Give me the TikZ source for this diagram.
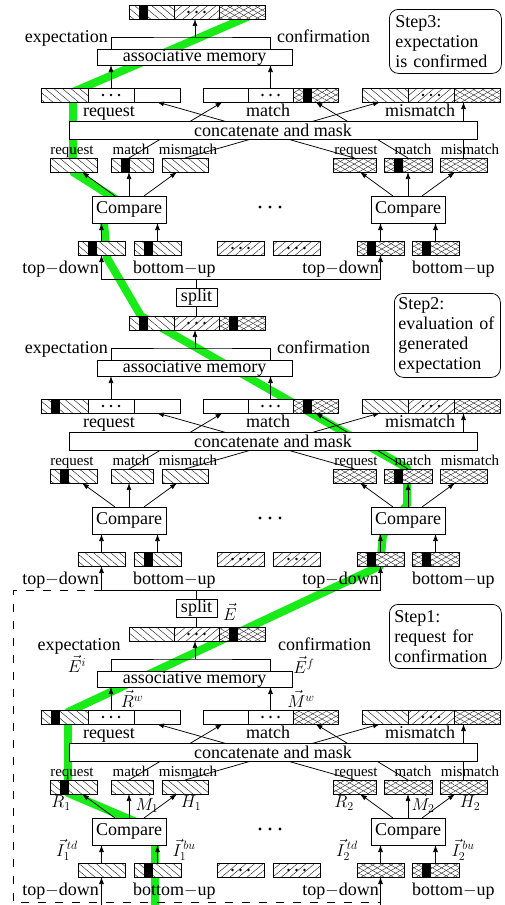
\documentclass[tikz,border=0pt]{standalone}
\usepackage{fontspec}
\setmainfont{Liberation Serif}
\usetikzlibrary{patterns.meta,arrows.meta}
\definecolor{hlgreen}{RGB}{25,235,25}
\tikzset{
  bx/.style={draw=black, line width=0.75pt, inner sep=0pt, outer sep=0pt, anchor=north west, minimum height=14pt},
  wbx/.style={bx, fill=white},
  hnw/.style={bx, preaction={fill=white}, pattern={Lines[angle=-40,distance=5.5pt,line width=0.45pt]}, pattern color=black!85},
  hne/.style={bx, preaction={fill=white}, pattern={Lines[angle=40,distance=5.5pt,line width=0.45pt]}, pattern color=black!85},
  hx/.style={bx, preaction={fill=white}, preaction={pattern={Lines[angle=30,distance=4.6pt,line width=0.4pt]}, pattern color=black!85}, pattern={Lines[angle=-30,distance=4.6pt,line width=0.4pt]}, pattern color=black!85},
  tbox/.style={draw=black, line width=0.75pt, fill=white, inner sep=0pt, outer sep=0pt, anchor=center, font=\fontsize{18}{20}\selectfont},
  lbl/.style={inner sep=0pt, font=\fontsize{18}{20}\selectfont},
  slbl/.style={inner sep=0pt, anchor=base, font=\fontsize{15}{16}\selectfont},
  arr/.style={-{Latex[length=7pt,width=5pt]}, line width=0.75pt},
  ln/.style={line width=0.75pt},
  stepnote/.style={draw=black, line width=0.75pt, rounded corners=9pt, anchor=north west, align=left, inner sep=0pt, font=\fontsize{18}{20}\selectfont},
}
\begin{document}
\begin{tikzpicture}[x=1pt,y=-1pt]
\useasboundingbox (0,0) rectangle (505,905);
% highlighted path
\draw[hlgreen, line width=8pt, line join=round] (155,906) -- (155,830) -- (68,793) -- (68,712) -- (380,566) -- (383,535) -- (407,505) -- (407,468) -- (141,316) -- (107,258) -- (104,222) -- (125,205) -- (73,172) -- (73,92) -- (252,15);
% dashed frame of step 1
\draw[ln, dash pattern=on 8pt off 9pt] (101.5,590) -- (13,590) -- (13,902) -- (380.5,902);

\foreach \s/\dy in {3/-311, 2/0, 1/311} {
\begin{scope}[shift={(0,\dy)}]
  % inputs
  \node[hnw, minimum width=47pt] (in1-\s) at (78,552) {};
  \node[hnw, minimum width=47pt] (in2-\s) at (134,552) {};
  \node[hne, minimum width=47pt] (in3-\s) at (217,552) {};
  \node[hne, minimum width=47pt] (in4-\s) at (273,552) {};
  \node[hx, minimum width=47pt] (in5-\s) at (357,552) {};
  \node[hx, minimum width=47pt] (in6-\s) at (412,552) {};
  \node[lbl, anchor=base east] (td1-\s) at (99,584) {top$-$down};
  \node[lbl, anchor=base west] (bu1-\s) at (133,584) {bottom$-$up};
  \node[lbl, anchor=base east] (td2-\s) at (379,584) {top$-$down};
  \node[lbl, anchor=base west] (bu2-\s) at (412,584) {bottom$-$up};
  % compare
  \node[tbox, minimum width=74pt, minimum height=27pt] (cmp1-\s) at (129,520.5) {Compare};
  \node[tbox, minimum width=74pt, minimum height=27pt] (cmp2-\s) at (408,520.5) {Compare};
  \fill (260,518) circle (1.7pt) (270,518) circle (1.7pt) (280,518) circle (1.7pt);
  \draw[arr] (in1-\s.north) -- (in1-\s.north |- cmp1-\s.south);
  \draw[arr] (in2-\s.north) -- (in2-\s.north |- cmp1-\s.south);
  \draw[arr] (in5-\s.north) -- (in5-\s.north |- cmp2-\s.south);
  \draw[arr] (in6-\s.north) -- (in6-\s.north |- cmp2-\s.south);
  % outputs of compare
  \node[hnw, minimum width=47pt] (o1-\s) at (50,469) {};
  \node[hnw, minimum width=42pt] (o2-\s) at (111,469) {};
  \node[hnw, minimum width=46pt] (o3-\s) at (162,469) {};
  \node[hx, minimum width=43pt] (o4-\s) at (333,469) {};
  \node[hx, minimum width=48pt] (o5-\s) at (384,469) {};
  \node[hx, minimum width=47pt] (o6-\s) at (440,469) {};
  \node[slbl] (lo1-\s) at (72,465) {request};
  \node[slbl] (lo2-\s) at (131,465) {match};
  \node[slbl] (lo3-\s) at (188,465) {mismatch};
  \node[slbl] (lo4-\s) at (356,465) {request};
  \node[slbl] (lo5-\s) at (413,465) {match};
  \node[slbl] (lo6-\s) at (470,465) {mismatch};
  \draw[arr] ([xshift=-14pt]cmp1-\s.north) -- ([xshift=8.5pt]o1-\s.south);
  \draw[arr] (cmp1-\s.north) -- (cmp1-\s.north |- o2-\s.south);
  \draw[arr] ([xshift=15pt]cmp1-\s.north) -- ([xshift=-8pt]o3-\s.south);
  \draw[arr] ([xshift=-15pt]cmp2-\s.north) -- ([xshift=5.5pt]o4-\s.south);
  \draw[arr] (cmp2-\s.north) -- (o5-\s.south);
  \draw[arr] ([xshift=14pt]cmp2-\s.north) -- ([xshift=-8.5pt]o6-\s.south);
  % wide boxes
  \node[hnw, minimum width=47pt] (A1-\s) at (41,399) {};
  \node[wbx, minimum width=46pt] (A2-\s) at (88,399) {};
  \node[wbx, minimum width=46pt] (A3-\s) at (134,399) {};
  \node[wbx, minimum width=45pt] (B1-\s) at (203,399) {};
  \node[wbx, minimum width=45pt] (B2-\s) at (248,399) {};
  \node[hx, minimum width=45pt] (B3-\s) at (293,399) {};
  \node[hnw, minimum width=46pt] (C1-\s) at (362,399) {};
  \node[hne, minimum width=46pt] (C2-\s) at (408,399) {};
  \node[hx, minimum width=46pt] (C3-\s) at (454,399) {};
  \node[lbl, anchor=base] (lA-\s) at (109,427) {request};
  \node[lbl, anchor=base] (lB-\s) at (268,427) {match};
  \node[lbl, anchor=base] (lC-\s) at (420,427) {mismatch};
  % concatenate and mask
  \draw[arr] ([xshift=-3pt]o2-\s.north) -- ([xshift=-3pt]B1-\s.south);
  \draw[arr] (o3-\s.north) -- ([xshift=-5pt]C1-\s.south);
  \draw[arr] (o4-\s.north) -- (A3-\s.south);
  \draw[arr] (o5-\s.north) -- (B3-\s.south);
  \ifnum\s=2 \else \draw[arr] (o6-\s.north) -- (o6-\s.north |- C3-\s.south); \fi
  \node[tbox, minimum width=408pt, minimum height=18pt] (cat-\s) at (273,441) {concatenate and mask};
  \ifnum\s=2 \draw[arr] (o6-\s.north |- cat-\s.north) -- (o6-\s.north |- C3-\s.south); \fi
  % associative memory
  \node[tbox, minimum width=195pt, minimum height=16pt] (am-\s) at (194.5,368) {associative memory};
  \draw[arr] (A2-\s.north) -- (A2-\s.north |- am-\s.south);
  \draw[arr] (B2-\s.north) -- (B2-\s.north |- am-\s.south);
  \coordinate (br-\s) at (195,348);
  \draw[ln] (A2-\s.north |- am-\s.north) |- (br-\s) -| (B2-\s.north |- am-\s.north);
  % expectation box
  \node[hnw, minimum width=45pt] (E1-\s) at (129,316) {};
  \node[hne, minimum width=45pt] (E2-\s) at (174,316) {};
  \node[hx, minimum width=46pt] (E3-\s) at (219,316) {};
  \draw[arr] (br-\s) -- (br-\s |- E2-\s.south);
  \ifnum\s=1 \else
    \node[lbl, anchor=base east] (lex-\s) at (108,353) {expectation};
    \node[lbl, anchor=base west] (lcf-\s) at (277,353) {confirmation};
  \fi
  % dots
  \foreach \b in {A2,B2,C2,E2,in3,in4} {
    \fill (\b-\s) ++(-8pt,0) circle (1.4pt) ++(8pt,0) circle (1.4pt) ++(8pt,0) circle (1.4pt);
  }
  % split
  \ifnum\s<3
    \pgfmathtruncatemacro\up{\s+1}
    \node[tbox, minimum width=41pt, minimum height=18pt] (sp-\s) at (196.5,297) {split};
    \draw[ln] (sp-\s.south) -- (sp-\s.south |- E2-\s.north);
    \coordinate (hl-\s) at (196.5,279);
    \draw[ln] (sp-\s.north) -- (hl-\s);
    \draw[arr] (hl-\s) -| (in1-\up.south);
    \draw[arr] (hl-\s) -| (in5-\up.south);
  \fi
\end{scope}
}
% black blocks
\foreach \b in {in1-3,in2-3,in5-3,in6-3,o2-3,o5-3,B3-3,E1-3,
                in2-2,in5-2,in6-2,o1-2,o5-2,A1-2,B3-2,E1-2,E3-2,
                in2-1,in6-1,o1-1,A1-1,E3-1} {
  \fill ([xshift=9.5pt]\b.north west) rectangle ([xshift=19pt]\b.south west);
}
% inputs of step 1 from below
\coordinate (bot1) at (101.5,905);
\coordinate (bot5) at (380.5,905);
\draw[arr] (bot1) -- (in1-1.south);
\draw[arr] (bot5) -- (in5-1.south);
% step 1 labels
\node[lbl, anchor=base] (lex-1) at (79,650) {expectation};
\node[lbl, anchor=base west] (lcf-1) at (278,650) {confirmation};
\node[lbl] (mE) at (230,612) {$\vec{E}$};
\node[lbl] (mEi) at (77,664) {$\vec{E}^i$};
\node[lbl] (mEf) at (304,665) {$\vec{E}^f$};
\node[lbl] (mRw) at (132,699) {$\vec{R}^w$};
\node[lbl] (mMw) at (301,699) {$\vec{M}^w$};
\node[lbl] (mR1) at (61,803) {$R_1$};
\node[lbl] (mM1) at (147,803) {$\vec{M}_1$};
\node[lbl] (mH1) at (191,803) {$H_1$};
\node[lbl] (mI1t) at (67,850) {$\vec{I}_1^{\,td}$};
\node[lbl] (mI1b) at (184,850) {$\vec{I}_1^{\,bu}$};
\node[lbl] (mR2) at (344,803) {$R_2$};
\node[lbl] (mM2) at (423,803) {$\vec{M}_2$};
\node[lbl] (mH2) at (470,803) {$H_2$};
\node[lbl] (mI2t) at (347,850) {$\vec{I}_2^{\,td}$};
\node[lbl] (mI2b) at (463,850) {$\vec{I}_2^{\,bu}$};
% step notes
\node[stepnote, minimum width=112pt, minimum height=64pt, text width=100pt, inner xsep=6pt] (st3) at (389,9) {Step3:\\expectation\\is confirmed};
\node[stepnote, minimum width=106pt, minimum height=84pt, text width=98pt, inner xsep=4pt] (st2) at (394,293) {Step2:\\evaluation of\\generated\\expectation};
\node[stepnote, minimum width=112pt, minimum height=64pt, text width=102pt, inner xsep=5pt] (st1) at (389,604) {Step1:\\request for\\confirmation};
\end{tikzpicture}
\end{document}
